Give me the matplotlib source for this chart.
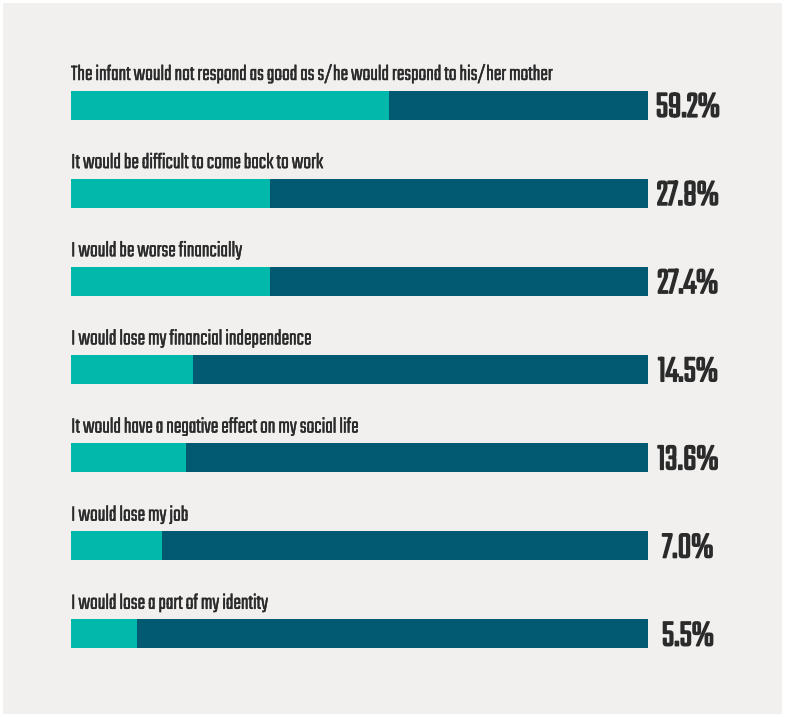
import matplotlib.pyplot as plt
import matplotlib.patheffects as pe
from matplotlib.patches import Rectangle

labels = ["The infant would not respond as good as s/he would respond to his/her mother",
          "It would be difficult to come back to work",
          "I would be worse financially",
          "I would lose my financial independence",
          "It would have a negative effect on my social life",
          "I would lose my job",
          "I would lose a part of my identity"]
values = [59.2, 27.8, 27.4, 14.5, 13.6, 7.0, 5.5]
# teal share of each bar as drawn in the original (not to scale with the value)
teal_share = [0.551, 0.345, 0.345, 0.211, 0.199, 0.158, 0.114]

TEAL = "#02b8ab"
DARK = "#015a71"
BG = "#f1f0ee"
TXT = "#2b2b2b"
FONT = ["Teko", "DejaVu Sans"]

W, H = 785, 717
fig = plt.figure(figsize=(W / 100, H / 100), dpi=100, facecolor="white")
fig.patches.append(Rectangle((3 / W, 3 / H), 779 / W, 711 / H, transform=fig.transFigure,
                             facecolor=BG, edgecolor="none", zorder=-10))

ax = fig.add_axes([71 / W, 1 - 678 / H, 577 / W, 617 / H])
ax.set_zorder(1)
ax.set_facecolor("none")
ax.set_xlim(0, 1)
ax.set_ylim(len(labels) - 0.5, -0.5)
ax.axis("off")

ypos = range(len(labels))
bh = 0.33
ax.barh(ypos, [1] * len(labels), height=bh, color=DARK, linewidth=0)
ax.barh(ypos, teal_share, height=bh, color=TEAL, linewidth=0)

# only a light Teko is installed, so thicken strokes a bit
thin = [pe.withStroke(linewidth=0.25, foreground=TXT)]
thick = [pe.withStroke(linewidth=1.1, foreground=TXT)]

for i, (lab, v) in enumerate(zip(labels, values)):
    ax.text(0, i - bh / 2 - 0.085, lab, ha="left", va="bottom", fontsize=16.4,
            family=FONT, color=TXT, clip_on=False, path_effects=thin)
    ax.text(1.069, i + 0.02, f"{v:.1f}%", ha="center", va="center", fontsize=27.5,
            family=FONT, color=TXT, clip_on=False, path_effects=thick)

fig.savefig("out.png", dpi=100, facecolor="white")
